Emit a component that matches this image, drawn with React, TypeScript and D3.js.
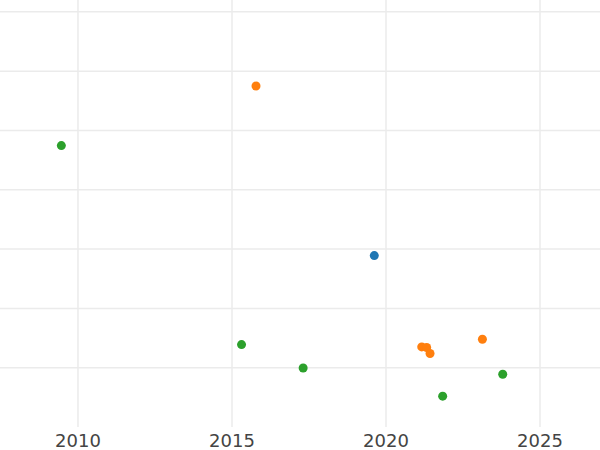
import React from "react";
import * as d3 from "d3";

const seriesNames = ["A", "B", "C"];
const seriesColors = ["#1f77b4", "#ff7f0e", "#2ca02c"];

const blueYears = [2019.62];
const blueValues = [2.89];

const orangeYears = [2015.78, 2021.16, 2021.32, 2021.43, 2023.13];
const orangeValues = [5.75, 1.35, 1.34, 1.24, 1.48];

const greenYears = [2009.46, 2015.31, 2017.31, 2021.84, 2023.79];
const greenValues = [4.745, 1.39, 0.995, 0.52, 0.89];

const xTicks = [2010, 2015, 2020, 2025];
const yGrid = [1, 2, 3, 4, 5, 6, 7];

const W = 600;
const H = 450;
const plotBottom = 427;

export default function App() {
  const x = d3.scaleLinear().domain([2007.468, 2026.948]).range([0, W]);
  const y = d3.scaleLinear().domain([0, 7.2]).range([plotBottom, 0]);

  const series = [
    { name: seriesNames[0], color: seriesColors[0], xs: blueYears, ys: blueValues },
    { name: seriesNames[1], color: seriesColors[1], xs: orangeYears, ys: orangeValues },
    { name: seriesNames[2], color: seriesColors[2], xs: greenYears, ys: greenValues },
  ];

  return (
    <svg
      width={W}
      height={H}
      style={{ position: "absolute", left: 0, top: 0, background: "#fff" }}
      fontFamily="DejaVu Sans, sans-serif"
    >
      <rect x={0} y={0} width={W} height={H} fill="#fff" />
      <g>
        {yGrid.map((v) => (
          <line key={"h" + v} x1={0} x2={W} y1={y(v)} y2={y(v)} stroke="#ebebeb" strokeWidth={1.5} />
        ))}
        {xTicks.map((t) => (
          <line key={"v" + t} x1={x(t)} x2={x(t)} y1={0} y2={plotBottom} stroke="#ebebeb" strokeWidth={1.5} />
        ))}
      </g>
      <g>
        {series.map((s) =>
          s.xs.map((xv, i) => (
            <circle key={s.name + i} cx={x(xv)} cy={y(s.ys[i])} r={4.5} fill={s.color} />
          ))
        )}
      </g>
      <g>
        {xTicks.map((t) => (
          <text key={"t" + t} x={x(t)} y={446.5} textAnchor="middle" fontSize={18} fill="#444">
            {t}
          </text>
        ))}
      </g>
    </svg>
  );
}
